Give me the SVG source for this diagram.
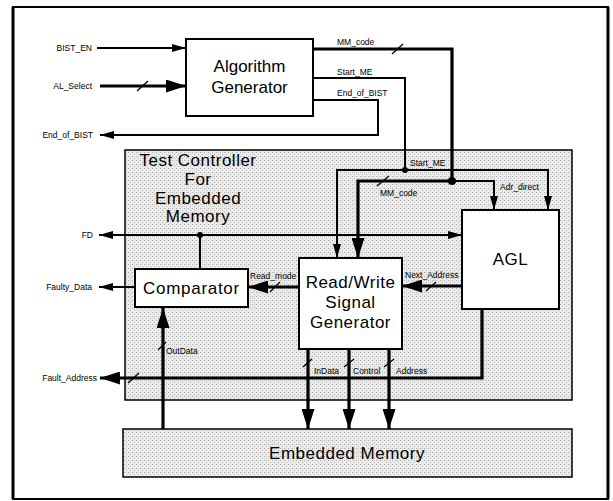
<svg xmlns="http://www.w3.org/2000/svg" width="613" height="501" viewBox="0 0 613 501">
  <defs>
    <pattern id="dither" width="4" height="4" patternUnits="userSpaceOnUse">
      <rect width="4" height="4" fill="#ebebeb"/>
      <rect x="0" y="0" width="1" height="1" fill="#aaaaaa"/>
      <rect x="2" y="2" width="1" height="1" fill="#bdbdbd"/>
      <rect x="2" y="0" width="1" height="1" fill="#d6d6d6"/>
    </pattern>
    <marker id="ah" viewBox="0 0 14 8" refX="14" refY="4" markerWidth="14" markerHeight="8" markerUnits="userSpaceOnUse" orient="auto">
      <path d="M0,0 L14,4 L0,8 Z" fill="#000"/>
    </marker>
    <marker id="ahBig" viewBox="0 0 20 13" refX="20" refY="6.5" markerWidth="20" markerHeight="13" markerUnits="userSpaceOnUse" orient="auto">
      <path d="M0,0 L20,6.5 L0,13 Z" fill="#000"/>
    </marker>
  </defs>
  <style>
    .frame { fill: none; stroke: #000; stroke-width: 2; }
    .box { fill: #fff; stroke: #000; stroke-width: 2; }
    .shade { fill: url(#dither); stroke: #000; stroke-width: 1.5; }
    .thin { fill: none; stroke: #000; stroke-width: 1.2; shape-rendering: crispEdges; }
    .thick { fill: none; stroke: #000; stroke-width: 3.2; }
    .slash { stroke: #000; stroke-width: 1.3; }
    .big { font-family: "Liberation Sans", Arial, sans-serif; font-size: 17px; fill: #000; text-anchor: middle; }
    .lbl { font-family: "Liberation Sans", Arial, sans-serif; font-size: 8.5px; fill: #000; }
    .end { text-anchor: end; }
  </style>

  <rect width="613" height="501" fill="#fff"/>

  <!-- outer frame -->
  <rect class="frame" x="13" y="7" width="595" height="492"/>
  <line x1="13" y1="7" x2="13" y2="499" stroke="#000" stroke-width="3"/>
  <line x1="608" y1="7" x2="608" y2="499" stroke="#000" stroke-width="3"/>

  <!-- test controller region -->
  <g id="test-controller">
    <rect class="shade" x="125" y="150" width="447" height="250"/>
    <text class="big" x="198" y="166" letter-spacing="0.5">Test Controller</text>
    <text class="big" x="198" y="185" letter-spacing="0.5">For</text>
    <text class="big" x="198" y="204" letter-spacing="0.5">Embedded</text>
    <text class="big" x="198" y="222" letter-spacing="0.5">Memory</text>
  </g>

  <g id="embedded-memory">
    <rect class="shade" x="123" y="429" width="449" height="48"/>
    <text class="big" x="347" y="459" letter-spacing="0.5">Embedded Memory</text>
  </g>

  <!-- connectors -->
  <g id="connectors">
    <!-- inputs to Algorithm Generator -->
    <line class="thin" x1="97" y1="48" x2="186" y2="48" marker-end="url(#ah)"/>
    <line class="thick" x1="100" y1="86" x2="186" y2="86" marker-end="url(#ahBig)"/>
    <line class="slash" x1="137" y1="91" x2="148" y2="81"/>

    <!-- End_of_BIST -->
    <polyline class="thin" points="313,100 378,100 378,135 100,135" marker-end="url(#ah)"/>

    <!-- Start_ME -->
    <polyline class="thin" points="313,78 405,78 405,170"/>
    <polyline class="thin" points="405,170 337,170 337,258" marker-end="url(#ah)"/>
    <polyline class="thin" points="405,170 548,170 548,210" marker-end="url(#ah)"/>
    <circle cx="405" cy="170" r="3"/>

    <!-- MM_code bus -->
    <polyline class="thick" points="313,49 452,49 452,181"/>
    <line class="slash" x1="392" y1="54" x2="403" y2="44"/>
    <polyline class="thick" points="452,181 358,181 358,258" marker-end="url(#ahBig)"/>
    <line class="slash" x1="377" y1="186" x2="389" y2="176"/>
    <polyline class="thin" points="452,181 494,181 494,210" marker-end="url(#ah)"/>
    <circle cx="452" cy="181" r="4"/>

    <!-- FD -->
    <line class="thin" x1="200" y1="235" x2="99" y2="235" marker-end="url(#ah)"/>
    <line class="thin" x1="200" y1="235" x2="462" y2="235" marker-end="url(#ah)"/>
    <line class="thin" x1="200" y1="235" x2="200" y2="269"/>
    <circle cx="200" cy="235" r="3"/>

    <!-- Faulty_Data -->
    <line class="thin" x1="135" y1="287" x2="99" y2="287" marker-end="url(#ah)"/>

    <!-- Read_mode -->
    <line class="thick" x1="299" y1="287" x2="248" y2="287" marker-end="url(#ahBig)"/>
    <line class="slash" x1="270" y1="292" x2="280" y2="282"/>

    <!-- Next_Address -->
    <line class="thick" x1="462" y1="286" x2="402" y2="286" marker-end="url(#ahBig)"/>
    <line class="slash" x1="426" y1="291" x2="436" y2="282"/>

    <!-- Fault_Address -->
    <polyline class="thick" points="482,309 482,378 100,378" marker-end="url(#ahBig)"/>
    <line class="slash" x1="128" y1="383" x2="139" y2="373"/>

    <!-- OutData -->
    <line class="thick" x1="163" y1="429" x2="163" y2="308" marker-end="url(#ahBig)"/>
    <line class="slash" x1="158" y1="350" x2="166" y2="342"/>

    <!-- InData / Control / Address -->
    <line class="thick" x1="308" y1="349" x2="308" y2="429" marker-end="url(#ahBig)"/>
    <line class="slash" x1="303" y1="367" x2="312" y2="359"/>
    <line class="thick" x1="349" y1="349" x2="349" y2="429" marker-end="url(#ahBig)"/>
    <line class="slash" x1="344" y1="367" x2="354" y2="359"/>
    <line class="thick" x1="389" y1="349" x2="389" y2="429" marker-end="url(#ahBig)"/>
    <line class="slash" x1="384" y1="367" x2="394" y2="359"/>
  </g>

  <!-- connector labels -->
  <g id="labels">
    <text class="lbl end" x="92" y="51">BIST_EN</text>
    <text class="lbl end" x="92" y="89">AL_Select</text>
    <text class="lbl end" x="93" y="138">End_of_BIST</text>
    <text class="lbl end" x="93" y="238">FD</text>
    <text class="lbl end" x="92" y="290">Faulty_Data</text>
    <text class="lbl end" x="97" y="381">Fault_Address</text>
    <text class="lbl" x="337" y="45">MM_code</text>
    <text class="lbl" x="337" y="75">Start_ME</text>
    <text class="lbl" x="337" y="96">End_of_BIST</text>
    <text class="lbl" x="410" y="166">Start_ME</text>
    <text class="lbl" x="380" y="196">MM_code</text>
    <text class="lbl" x="500" y="190">Adr_direct</text>
    <text class="lbl" x="250" y="279">Read_mode</text>
    <text class="lbl" x="405" y="278">Next_Address</text>
    <text class="lbl" x="166" y="354">OutData</text>
    <text class="lbl" x="314" y="374">InData</text>
    <text class="lbl" x="353" y="374">Control</text>
    <text class="lbl" x="396" y="374">Address</text>
  </g>

  <!-- blocks -->
  <g id="algorithm-generator">
    <rect class="box" x="186" y="39" width="127" height="77"/>
    <text class="big" x="249.5" y="72">Algorithm</text>
    <text class="big" x="249.5" y="93">Generator</text>
  </g>

  <g id="comparator">
    <rect class="box" x="135" y="269" width="113" height="38"/>
    <text class="big" x="191.5" y="294" letter-spacing="0.7">Comparator</text>
  </g>

  <g id="rw-signal-generator">
    <rect class="box" x="299" y="258" width="103" height="91"/>
    <text class="big" x="350.5" y="288" letter-spacing="0.5">Read/Write</text>
    <text class="big" x="350.5" y="308" letter-spacing="0.5">Signal</text>
    <text class="big" x="350.5" y="328" letter-spacing="0.5">Generator</text>
  </g>

  <g id="agl">
    <rect class="box" x="462" y="210" width="97" height="99"/>
    <text class="big" x="510.5" y="265" letter-spacing="0.5">AGL</text>
  </g>
</svg>
